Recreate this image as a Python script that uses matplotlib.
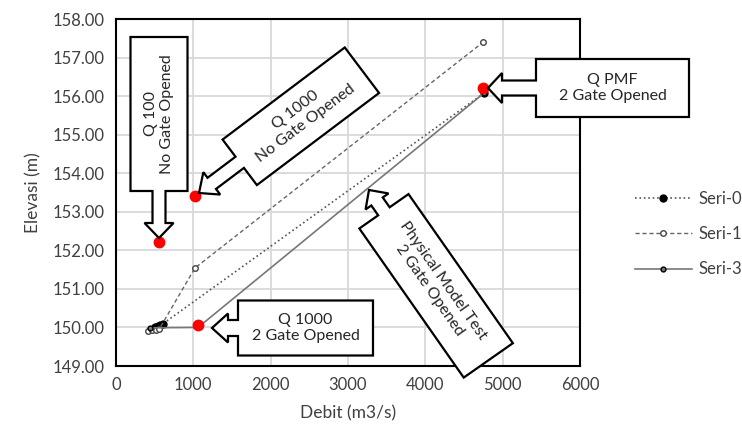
import numpy as np
import matplotlib.pyplot as plt
from matplotlib.patches import Polygon

W, H = 742, 436

# data
seri0_x = [505, 540, 575, 610, 4760]
seri0_y = [150.02, 150.04, 150.06, 150.10, 156.08]
seri1_x = [420, 470, 520, 560, 1020, 4748]
seri1_y = [149.92, 149.93, 149.94, 149.96, 151.54, 157.40]
seri3_x = [440, 1061, 4760]
seri3_y = [149.99, 150.00, 156.08]
red_x = [556, 1022, 1061, 4748]
red_y = [152.22, 153.41, 150.06, 156.21]

x_ticks = [0, 1000, 2000, 3000, 4000, 5000, 6000]
y_ticks = [149, 150, 151, 152, 153, 154, 155, 156, 157, 158]

plt.rcParams['font.family'] = ['Lato', 'DejaVu Sans']

fig = plt.figure(figsize=(W / 100, H / 100), dpi=100)
ax = fig.add_axes([116 / W, 1 - 366 / H, (580 - 116) / W, (366 - 19) / H])

ax.plot(seri0_x, seri0_y, ls=':', color='#555555', lw=1.2, marker='o', ms=5,
        mfc='black', mec='black', label='Seri-0', zorder=3)
ax.plot(seri1_x, seri1_y, ls=(0, (3, 2)), color='#666666', lw=1.0, marker='o', ms=4,
        mfc='white', mec='#444444', label='Seri-1', zorder=3)
ax.plot(seri3_x, seri3_y, ls='-', color='#777777', lw=1.2, marker='o', ms=3.5,
        mfc='#777777', mec='black', label='Seri-3', zorder=3)
ax.plot(red_x, red_y, ls='none', marker='o', ms=7.5, color='#ff0000', zorder=5)

ax.set_xlim(0, 6000)
ax.set_ylim(149, 158)
ax.set_xticks(x_ticks)
ax.set_yticks(y_ticks)
ax.set_yticklabels([f"{v:.2f}" for v in y_ticks])
ax.tick_params(length=0, labelsize=12, colors='#404040', pad=8)
ax.grid(True, color='#d9d9d9', lw=1.3)
ax.set_axisbelow(True)
for s in ax.spines.values():
    s.set_linewidth(1.5)
    s.set_color('black')

ax.set_xlabel("Debit (m3/s)", fontsize=12.5, color='#404040', labelpad=9)
ax.set_ylabel("Elevasi (m)", fontsize=12.5, color='#404040', labelpad=8)

ax.legend(loc='upper left', bbox_to_anchor=(620 / W, 1 - 176 / H),
          bbox_transform=fig.transFigure, frameon=False, fontsize=12,
          handlelength=3.4, handletextpad=0.4, labelspacing=1.15,
          labelcolor='#404040')


def callout(tip, ang, blen, bwid, L, hl, hw, sw, text, rot):
    # arrow points along +x in local coords, box sits behind the arrow
    local = np.array([
        (-L - blen, -bwid / 2), (-L, -bwid / 2), (-L, -sw / 2),
        (-hl, -sw / 2), (-hl, -hw / 2), (0, 0), (-hl, hw / 2),
        (-hl, sw / 2), (-L, sw / 2), (-L, bwid / 2), (-L - blen, bwid / 2)])
    a = np.deg2rad(ang)
    R = np.array([[np.cos(a), -np.sin(a)], [np.sin(a), np.cos(a)]])
    tx, ty = tip[0], H - tip[1]
    pts = local @ R.T + [tx, ty]
    pts = pts / [W, H]
    fig.patches.append(Polygon(pts, closed=True, transform=fig.transFigure,
                               fc='white', ec='black', lw=1.6, zorder=6))
    c = np.array([-L - blen / 2, 0]) @ R.T + [tx, ty]
    fig.text(c[0] / W, c[1] / H, text, ha='center', va='center',
             rotation=rot, rotation_mode='anchor', multialignment='center',
             fontsize=11.5, color='#262626', zorder=7, linespacing=1.25)


callout((488, 88), 180, 153, 58, 48, 14, 30, 15, "Q PMF\n2 Gate Opened", 0)
callout((212, 328), 180, 135, 55, 26, 16, 29, 16, "Q 1000\n2 Gate Opened", 0)
callout((159, 238), -90, 154, 57, 47, 15, 29, 13, "Q 100\nNo Gate Opened", 90)
callout((199, 193), 217, 153, 57, 51, 16, 28, 14, "Q 1000\nNo Gate Opened", 37)
callout((369, 190), 125, 182, 60, 26, 14, 28, 14,
        "Physical Model Test\n2 Gate Opened", -55)

fig.savefig("out.png", dpi=100)
